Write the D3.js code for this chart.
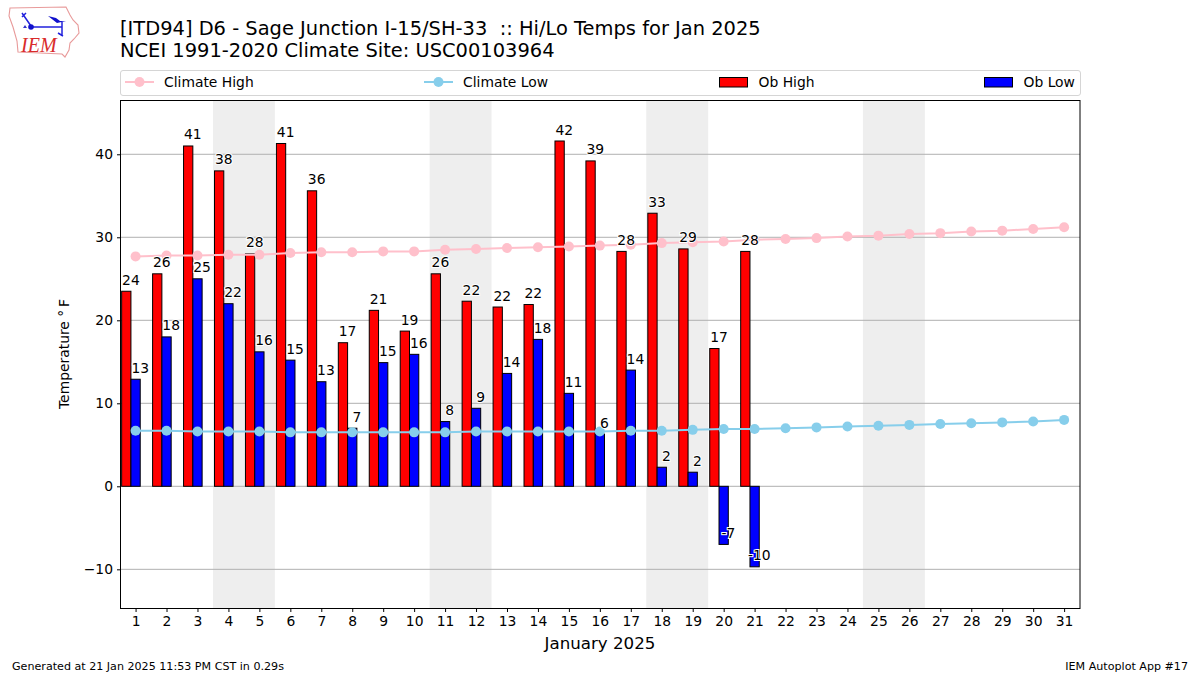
<!DOCTYPE html>
<html><head><meta charset="utf-8">
<script src="https://cdn.jsdelivr.net/npm/d3@7/dist/d3.min.js"></script>
<style>html,body{margin:0;padding:0;background:#fff}svg{display:block}text{font-family:"DejaVu Sans",sans-serif;fill:#000}</style>
</head><body><svg id="c" width="1200" height="675"></svg>
<script>
const days=d3.range(1,32);
const obHigh=[23.5,25.6,41,38,28,41.3,35.6,17.3,21.2,18.7,25.6,22.3,21.6,21.9,41.6,39.2,28.3,32.9,28.6,16.6,28.3];
const obLow=[12.9,18,25,22,16.2,15.2,12.6,7,14.9,15.9,7.8,9.4,13.6,17.7,11.2,6.3,14,2.3,1.7,-7,-9.7];
const climHigh=[27.7,27.8,27.8,27.9,27.9,28.1,28.2,28.2,28.3,28.3,28.5,28.6,28.7,28.8,28.9,29,29.1,29.3,29.4,29.5,29.7,29.8,29.9,30.1,30.2,30.4,30.5,30.7,30.8,31,31.2];
const climLow=[6.7,6.7,6.6,6.6,6.6,6.5,6.5,6.5,6.5,6.5,6.5,6.6,6.6,6.6,6.6,6.6,6.7,6.7,6.8,6.9,6.9,7,7.1,7.2,7.3,7.4,7.5,7.6,7.7,7.8,8];
const weekendStarts=[4,11,18,25];
const yTicks=[-10,0,10,20,30,40];
const title1="[ITD94] D6 - Sage Junction I-15/SH-33  :: Hi/Lo Temps for Jan 2025";
const title2="NCEI 1991-2020 Climate Site: USC00103964";

const L=120.5,R=1080,T=100,B=608;
const svg=d3.select("#c");
const x=d3.scaleLinear().domain([0.5,31.5]).range([L-.4,R-.4]);
const y=d3.scaleLinear().domain([-14.6,46.6]).range([B-.5,T-.5]);
const w=x(1.3)-x(1);
const FS=13.89;

svg.append("g").selectAll("rect").data(weekendStarts).join("rect")
 .attr("x",d=>x(d-.5)).attr("width",d=>x(d+1.5)-x(d-.5)).attr("y",T).attr("height",B-T).attr("fill","#eeeeee");
svg.append("g").selectAll("line").data(yTicks).join("line")
 .attr("x1",L).attr("x2",R).attr("y1",d=>y(d)).attr("y2",d=>y(d)).attr("stroke","#b0b0b0").attr("stroke-width",1);
const bars=(data,off,fill)=>svg.append("g").selectAll("rect").data(data).join("rect")
 .attr("x",(d,i)=>x(i+1+off)).attr("width",w)
 .attr("y",d=>Math.min(y(d),y(0))).attr("height",d=>Math.abs(y(d)-y(0)))
 .attr("fill",fill).attr("stroke","#000").attr("stroke-width",1);
bars(obHigh,-.45,"#ff0000");
bars(obLow,-.15,"#0000ff");
const line=d3.line().x((d,i)=>x(i+1)).y(d=>y(d));
const climate=(data,col)=>{
 const g=svg.append("g");
 g.append("path").attr("d",line(data)).attr("fill","none").attr("stroke",col).attr("stroke-width",2);
 g.selectAll("circle").data(data).join("circle").attr("cx",(d,i)=>x(i+1)).attr("cy",d=>y(d)).attr("r",5).attr("fill",col);
};
climate(climHigh,"#ffc0cb");
climate(climLow,"#87ceeb");
const labels=(data,off)=>svg.append("g").selectAll("text").data(data).join("text")
 .attr("x",(d,i)=>x(i+1+off)).attr("y",d=>y(d)-6.5).attr("text-anchor","middle")
 .attr("font-size",FS).attr("stroke","#fff").attr("stroke-width",2).attr("paint-order","stroke")
 .text(d=>Math.round(d));
labels(obHigh,-.15);
labels(obLow,.15);
svg.append("rect").attr("x",L).attr("y",T+.5).attr("width",R-L).attr("height",B-T).attr("fill","none").attr("stroke","#000").attr("stroke-width",1);
const xa=d3.axisBottom(x).tickValues(days).tickFormat(d3.format("d")).tickSize(3.5).tickPadding(4);
const gx=svg.append("g").attr("transform",`translate(0,${B+.5})`).call(xa);
const ya=d3.axisLeft(y).tickValues(yTicks).tickFormat(d=>d<0?"\u2212"+(-d):d).tickSize(3.5).tickPadding(4);
const gy=svg.append("g").attr("transform",`translate(${L},0)`).call(ya);
[gx,gy].forEach(g=>{g.select(".domain").remove();g.selectAll("text").attr("font-size",FS).attr("font-family","DejaVu Sans");g.selectAll("line").attr("stroke","#000")});
svg.append("text").attr("x",600).attr("y",649).attr("text-anchor","middle").attr("font-size",16.67).text("January 2025");
svg.append("text").attr("transform","translate(69,354) rotate(-90)").attr("text-anchor","middle").attr("font-size",FS).text("Temperature \u00b0\u2009F");
svg.append("text").attr("x",120).attr("y",35).attr("font-size",19.44).style("white-space","pre").text(title1);
svg.append("text").attr("x",120).attr("y",57).attr("font-size",19.44).text(title2);
svg.append("rect").attr("x",120.5).attr("y",70.5).attr("width",960).attr("height",25).attr("rx",2.5).attr("fill","#fff").attr("stroke","#d5d5d5");
const legendY=82;
const legendLine=(xx,col,t)=>{
 svg.append("line").attr("x1",xx).attr("x2",xx+29).attr("y1",legendY).attr("y2",legendY).attr("stroke",col).attr("stroke-width",2);
 svg.append("circle").attr("cx",xx+14.5).attr("cy",legendY).attr("r",5).attr("fill",col);
 svg.append("text").attr("x",xx+39).attr("y",legendY+4.5).attr("font-size",FS).text(t);
};
legendLine(125,"#ffc0cb","Climate High");
legendLine(424,"#87ceeb","Climate Low");
const legendBar=(xx,col,t)=>{
 svg.append("rect").attr("x",xx).attr("y",77.5).attr("width",28).attr("height",9.5).attr("fill",col).attr("stroke","#000");
 svg.append("text").attr("x",xx+39).attr("y",legendY+4.5).attr("font-size",FS).text(t);
};
legendBar(719.5,"#ff0000","Ob High");
legendBar(984.5,"#0000ff","Ob Low");
svg.append("text").attr("x",12).attr("y",670).attr("font-size",11.11).text("Generated at 21 Jan 2025 11:53 PM CST in 0.29s");
svg.append("text").attr("x",1188).attr("y",670).attr("text-anchor","end").attr("font-size",11.11).text("IEM Autoplot App #17");
const logo=svg.append("g");
logo.append("path").attr("d","M10,8 L66,7 L68,11 L70,15 L73,20 L78,25 L79,33 L74,39 L70,43 L69,50 L65,57 L62,54 L18,52 L17,41 L13,27 L9,16 Z").attr("fill","#fff").attr("stroke","#e89a9a").attr("stroke-width",1.1);
logo.append("path").attr("d","M32,27 L62,27 M62,22 L62,35 M22,13 L31,26 M22,17 L26,13 M58,33 L63,36").attr("fill","none").attr("stroke","#2222dd").attr("stroke-width",1.5);
logo.append("circle").attr("cx",31).attr("cy",27).attr("r",2.8).attr("fill","#1111cc");
logo.append("path").attr("d","M48,16 L56,18 L60,21 L66,21 L57,23 Z").attr("fill","#1111cc");
logo.append("path").attr("d","M23,28 L25,25 L27,28 Z").attr("fill","#3333cc");
logo.append("text").attr("x",21).attr("y",52).attr("font-size",20).style("font-family","Liberation Serif").attr("font-style","italic").style("fill","#d92b2b").text("IEM");
</script></body></html>
